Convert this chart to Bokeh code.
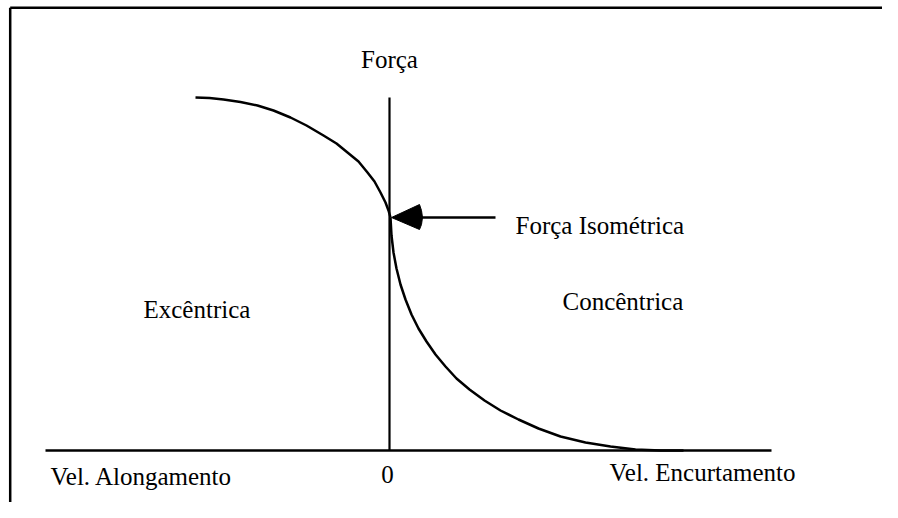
from bokeh.plotting import figure
from bokeh.models import Range1d
from bokeh.core.properties import value
from bokeh.embed import file_html
from bokeh.resources import INLINE

# Schematic force-velocity curve (units: arbitrary, origin at velocity 0 / axis)
ecc_vel = [-194, -180, -166, -149, -132, -116, -99, -83, -66, -53, -42, -31, -22, -15, -9, -4, -1, 1]
ecc_force = [353, 352.5, 351, 348.5, 345, 340, 333, 325, 315, 307, 298, 289, 278, 269, 258, 248, 240, 233]

con_vel = [1, 2, 4, 7, 11, 16, 22, 29, 37, 46, 56, 67, 80, 95, 111, 129, 149, 171, 196, 221, 246, 271, 294]
con_force = [233, 215, 198, 182, 166, 151, 136, 122, 109, 96, 84, 72, 61, 50, 40, 31, 22, 14, 8, 4, 1, 0, 0]

force_axis = [0, 353]          # vertical axis extent
vel_axis = [-344, 382]         # horizontal axis extent
iso_force = 233                # isometric force level
arrow_tail = 106               # arrow tail velocity
arrow_head_base = 30

labels = ["Força", "Força Isométrica", "Excêntrica", "Concêntrica",
          "Vel. Alongamento", "0", "Vel. Encurtamento"]
label_x = [0, 126, -246, 173, -339, -2, 220]
label_y = [391, 225, 141, 149, -26, -24, -22]
label_align = ["center", "left", "left", "left", "left", "center", "left"]

p = figure(width=882, height=502, output_backend="svg", toolbar_location=None,
           x_range=Range1d(-389, 493), y_range=Range1d(-52, 450),
           min_border=0)
p.axis.visible = False
p.grid.visible = False
p.outline_line_color = None
p.background_fill_color = "white"
p.border_fill_color = "white"

# frame border (top and left visible)
p.line([-379.3, 493], [442.8, 442.8], line_color="black", line_width=2.5)
p.line([-379.3, -379.3], [442.8, -52], line_color="black", line_width=2.5)

# axes
p.line(vel_axis, [0, 0], line_color="black", line_width=2.5)
p.line([0, 0], force_axis, line_color="black", line_width=2.2)

# curve
p.line(ecc_vel, ecc_force, line_color="black", line_width=2.5, line_join="round")
p.line(con_vel, con_force, line_color="black", line_width=2.5, line_join="round")

# arrow to isometric force
p.line([arrow_tail, arrow_head_base], [iso_force, iso_force], line_color="black", line_width=2.5)
p.patch([2, arrow_head_base, arrow_head_base + 2, arrow_head_base + 3, arrow_head_base + 2, arrow_head_base],
        [iso_force, iso_force + 13, iso_force + 7, iso_force, iso_force - 7, iso_force - 12],
        fill_color="black", line_color="black", line_width=1)

for t, x, y, a in zip(labels, label_x, label_y, label_align):
    p.text(x=[x], y=[y], text=[t], text_font=value("Liberation Serif"),
           text_font_size="25px", text_align=a, text_baseline="alphabetic",
           text_color="black")

open("out.html", "w").write(file_html(p, INLINE))
